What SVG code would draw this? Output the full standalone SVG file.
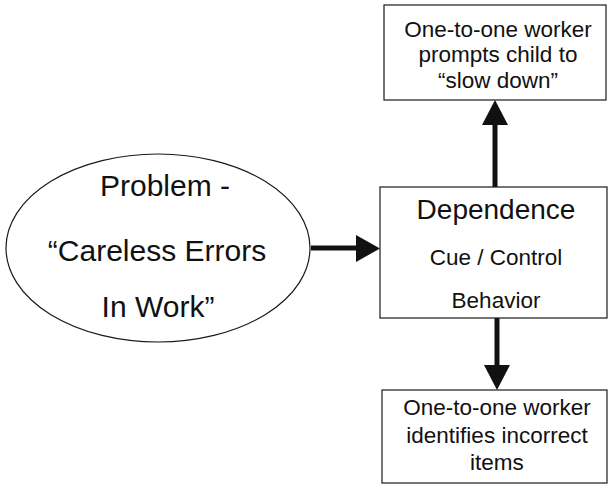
<svg xmlns="http://www.w3.org/2000/svg" width="609" height="485" viewBox="0 0 609 485">
  <style>
    .shape { fill: #ffffff; stroke: #1a1a1a; stroke-width: 1.2; }
    .t { font-family: "Liberation Sans", Arial, sans-serif; fill: #111111; text-anchor: middle; }
    .big { font-size: 30px; }
    .mid { font-size: 22.5px; }
    .head { font-size: 28px; }
    .link { stroke: #111111; stroke-width: 5; fill: none; }
    .tip { fill: #111111; }
  </style>
  <rect width="609" height="485" fill="#ffffff"/>

  <g id="connectors">
    <!-- problem -> dependence -->
    <line class="link" x1="311" y1="248" x2="360" y2="248"/>
    <polygon class="tip" points="356,235 380,248.5 356,262"/>
    <!-- dependence -> top box -->
    <line class="link" x1="495" y1="187" x2="495" y2="120"/>
    <polygon class="tip" points="482,125 495,100 508,125"/>
    <!-- dependence -> bottom box -->
    <line class="link" x1="497" y1="318" x2="497" y2="370"/>
    <polygon class="tip" points="484,365 497,390 510,365"/>
  </g>

  <g id="problem">
    <ellipse class="shape" cx="158" cy="248" rx="152" ry="94"/>
    <text class="t big" x="165" y="196">Problem -</text>
    <text class="t big" x="157" y="261">“Careless Errors</text>
    <text class="t big" x="158" y="317">In Work”</text>
  </g>

  <g id="dependence">
    <rect class="shape" x="380" y="187" width="227" height="131"/>
    <text class="t head" x="496" y="219">Dependence</text>
    <text class="t mid" x="496" y="265">Cue / Control</text>
    <text class="t mid" x="496" y="308">Behavior</text>
  </g>

  <g id="prompt-slow-down">
    <rect class="shape" x="384" y="5" width="222" height="95"/>
    <text class="t mid" x="498" y="37">One-to-one worker</text>
    <text class="t mid" x="498" y="62">prompts child to</text>
    <text class="t mid" x="498" y="88">“slow down”</text>
  </g>

  <g id="identify-items">
    <rect class="shape" x="382" y="390" width="225" height="93"/>
    <text class="t mid" x="497" y="415">One-to-one worker</text>
    <text class="t mid" x="497" y="443">identifies incorrect</text>
    <text class="t mid" x="497" y="470">items</text>
  </g>
</svg>
